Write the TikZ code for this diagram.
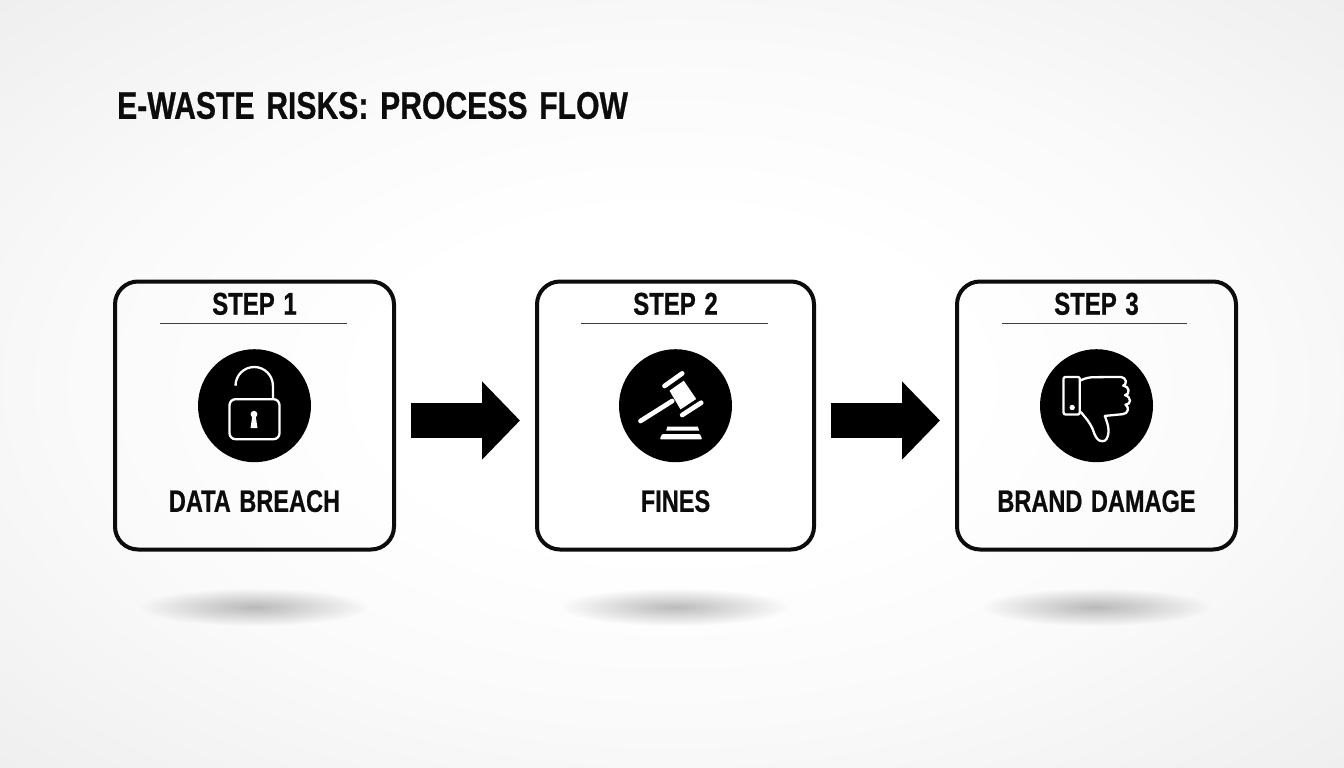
\documentclass[tikz,border=0pt]{standalone}
\usepackage{fontspec}
\setmainfont[FakeStretch=0.76,BoldFeatures={FakeBold=0.6},WordSpace=1.3]{Liberation Sans}
\newfontfamily\titlefont[FakeStretch=0.783,BoldFeatures={FakeBold=0.6},WordSpace=1.4]{Liberation Sans}
\usetikzlibrary{positioning,arrows.meta,fadings}
\definecolor{inkblack}{HTML}{0C0C0C}
\pgfdeclareradialshading{pagefade}{\pgfpoint{0bp}{0bp}}{
  color(0bp)=(white); color(11bp)=(white);
  rgb(22bp)=(.98,.98,.98); rgb(36bp)=(.935,.935,.935)}
\tikzfading[name=floorglow, inner color=transparent!74, outer color=transparent!100]
\tikzset{
  stepbox/.style   = {shape=rectangle, rounded corners=23pt, draw=inkblack,
                      line width=4pt, inner sep=0pt,
                      minimum width=279pt, minimum height=268pt},
  steplabel/.style = {inner sep=0pt, text=inkblack, font=\fontsize{31.5}{36}\selectfont\bfseries},
  risklabel/.style = {inner sep=0pt, text=inkblack, font=\fontsize{31}{38}\selectfont\bfseries},
  titlelabel/.style= {inner sep=0pt, text=inkblack, font=\fontsize{38.5}{46}\titlefont\bfseries},
  iconback/.style  = {circle, fill=black, inner sep=0pt, minimum size=113pt},
  steprule/.style  = {draw=black!75, line width=1.5pt},
  iconline/.style  = {draw=white, line width=2.3pt, line join=round},
  iconfill/.style  = {fill=white},
  gavelbar/.style  = {draw=white, line width=4.7pt, line cap=round},
  flowarrow/.style = {draw=black, line width=35pt,
                      -{Triangle[length=38pt,width=76pt]}},
  floor/.style     = {fill=black, path fading=floorglow}
}
\begin{document}
\begin{tikzpicture}[x=1pt,y=-1pt]
  % page
  \shade[shading=pagefade] (0,0) rectangle (1344,768);
  \useasboundingbox (0,0) rectangle (1344,768);

  \node [titlelabel, anchor=west] (title) at (117,105.5) {E-WASTE RISKS: PROCESS FLOW};

  % shadows under the boxes
  \fill[floor] (254,607) ellipse (116 and 19);
  \fill[floor] (675,607) ellipse (116 and 19);
  \fill[floor] (1096,607) ellipse (116 and 19);

  % boxes
  \node [stepbox] (boxa) at (254.5,415.5) {};
  \node [stepbox, right=139pt of boxa, minimum width=277pt] (boxb) {};
  \node [stepbox, right=139pt of boxb] (boxc) {};

  \node [steplabel, below=13pt of boxa.north] (stepa) {STEP 1};
  \node [steplabel, below=13pt of boxb.north] (stepb) {STEP 2};
  \node [steplabel, below=13pt of boxc.north] (stepc) {STEP 3};

  \draw [steprule] (160,323.5) -- (347,323.5);
  \draw [steprule] (581,323.5) -- (768,323.5);
  \draw [steprule] (1002,323.5) -- (1187,323.5);

  \node [iconback, below=69.5pt of boxa.north] (icona) {};
  \node [iconback, below=69.5pt of boxb.north] (iconb) {};
  \node [iconback, below=69.5pt of boxc.north] (iconc) {};

  \node [risklabel, below=210.5pt of boxa.north] (riska) {DATA BREACH};
  \node [risklabel, below=210.5pt of boxb.north] (riskb) {FINES};
  \node [risklabel, below=210.5pt of boxc.north] (riskc) {BRAND DAMAGE};

  % arrows
  \draw [flowarrow, shorten <=15pt, shorten >=15pt]
    ([yshift=-5pt]boxa.east) -- ([yshift=-5pt]boxb.west);
  \draw [flowarrow, shorten <=15pt, shorten >=15pt]
    ([yshift=-5pt]boxb.east) -- ([yshift=-5pt]boxc.west);

  % open lock
  \begin{scope}[shift={(icona.center)}]
    \draw [iconline, rounded corners=6pt] (-25,-6.5) rectangle (25,33.5);
    \draw [iconline] (-19,-20) arc (180:360:18.7) -- (18.4,-6.5);
    \fill [iconfill] (-0.5,8.5) circle (3.4);
    \fill [iconfill] (-2,9) -- (1,9) -- (3,22.5) -- (-4,22.5) -- cycle;
  \end{scope}

  % gavel
  \begin{scope}[shift={(iconb.center)}]
    \fill [iconfill] (-6,-15) -- (8.3,-25) -- (20.7,-6.7) -- (5,3.7) -- cycle;
    \draw [gavelbar] (-11,-19.7) -- (6.7,-32.3);
    \draw [gavelbar] (6.7,9.3) -- (25.7,-3);
    \draw [gavelbar] (-35,15.3) -- (-3.3,-4.7);
    \fill [iconfill] (-9.3,25) -- (-8.3,21) -- (22.3,21) -- (23.7,25) -- cycle;
    \fill [iconfill, rounded corners=1pt] (-15.7,33.7) -- (-13.5,28.3) -- (24.5,28.3) -- (26.7,33.7) -- cycle;
  \end{scope}

  % thumb down
  \begin{scope}[shift={(iconc.center)}]
    \draw [iconline, rounded corners=2pt] (-33,-28.8) rectangle (-16.7,8.8);
    \fill [iconfill] (-24.3,1.8) circle (2.7);
    \draw [iconline] (-15.7,-25.5) .. controls (-10,-28) and (-6,-28.5) .. (-2.3,-28.5)
      -- (24.3,-28.8)
      .. controls (30,-28.5) and (31,-21) .. (26.7,-20)
      .. controls (33,-20) and (34,-11) .. (28.5,-10.5)
      .. controls (35,-9) and (35,-1) .. (29,-1)
      .. controls (33,1) and (32,8.5) .. (26,8.5)
      -- (8.3,10.2)
      .. controls (10,15) and (12,20) .. (12,24.5)
      .. controls (12,33) and (9,35.5) .. (6,35.5)
      .. controls (2,35.5) and (0,33) .. (-2.3,27.7)
      .. controls (-4,22) and (-6,19) .. (-9,14.5)
      -- (-15.7,6.2);
  \end{scope}
\end{tikzpicture}
\end{document}
